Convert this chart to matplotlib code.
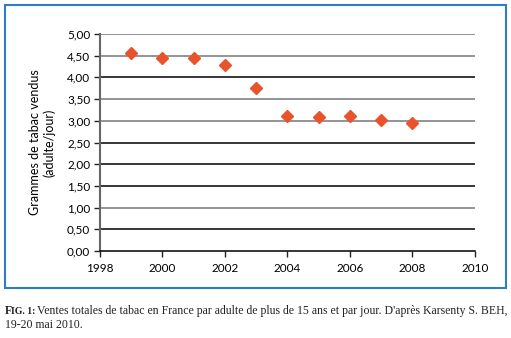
import matplotlib.pyplot as plt
from matplotlib.patches import Rectangle

# Data
years = [1999, 2000, 2001, 2002, 2003, 2004, 2005, 2006, 2007, 2008]
grams = [4.57, 4.44, 4.44, 4.28, 3.76, 3.12, 3.09, 3.12, 3.02, 2.95]
y_ticks = [0, 0.5, 1.0, 1.5, 2.0, 2.5, 3.0, 3.5, 4.0, 4.5, 5.0]
x_ticks = [1998, 2000, 2002, 2004, 2006, 2008, 2010]
grid_colors = ['#000000', '#000000', '#777777', '#000000', '#000000', '#000000',
               '#777777', '#777777', '#000000', '#777777', '#777777']

plt.rcParams['font.family'] = ['Lato', 'DejaVu Sans']

fig = plt.figure(figsize=(5.11, 3.38), dpi=100)
ax = fig.add_axes([0.1957, 0.2574, 0.7338, 0.642])

# Horizontal grid lines
for val, col in zip(y_ticks[1:], grid_colors[1:]):
    ax.axhline(val, color=col, linewidth=1.1, zorder=1)

ax.plot(years, grams, linestyle='none', marker='D', markersize=6,
        color='#e8532b', zorder=3)

ax.set_xlim(1998, 2010)
ax.set_ylim(0, 5)
ax.set_xticks(x_ticks)
ax.set_yticks(y_ticks)
ax.set_yticklabels([f"{v:.2f}".replace('.', ',') for v in y_ticks])
ax.tick_params(axis='both', labelsize=8.5, length=4, width=1, color='#222222')
ax.tick_params(axis='x', pad=5)
ax.tick_params(axis='y', pad=3)

for side in ['top', 'right']:
    ax.spines[side].set_visible(False)
ax.spines['left'].set_color('#666666')
ax.spines['left'].set_linewidth(1.5)
ax.spines['bottom'].set_color('#000000')
ax.spines['bottom'].set_linewidth(1.1)

ax.set_ylabel('Grammes de tabac vendus\n(adulte/jour)', fontsize=9, labelpad=8)

# Blue frame around the chart
fig.patches.append(Rectangle((5 / 511, 1 - 288 / 338), 501 / 511, 283 / 338,
                             transform=fig.transFigure, fill=False,
                             edgecolor='#2f7fc0', linewidth=1.5))

# Caption, "Fig. 1:" in small caps
serif = 'Liberation Serif'
cap_y = 1 - 314 / 338
fig.text(5 / 511, cap_y, 'F', fontsize=8.5, fontweight='bold',
         family=serif, va='baseline', color='#222222')
fig.text(11 / 511, cap_y, 'IG. 1:', fontsize=7, fontweight='bold',
         family=serif, va='baseline', color='#222222')
fig.text(37 / 511, cap_y,
         "Ventes totales de tabac en France par adulte de plus de 15 ans et par jour. D'après Karsenty S. BEH,",
         fontsize=8.5, family=serif, va='baseline', color='#222222')
fig.text(5 / 511, 1 - 328 / 338, '19-20 mai 2010.', fontsize=8.5, family=serif,
         va='baseline', color='#222222')

fig.savefig('out.png', dpi=100)
